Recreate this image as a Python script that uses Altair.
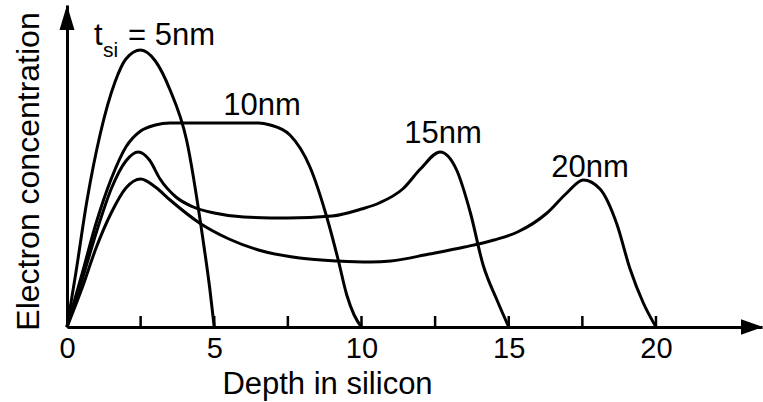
import altair as alt
import pandas as pd

# ---- data (depth in nm, concentration in arbitrary units) ----
d5 = [0, 0.3, 0.67, 1.12, 1.63, 2.0, 2.5, 3.0, 3.5, 4.06, 4.62, 4.85, 5.0]
c5 = [0, 54, 125, 192, 245, 268, 277, 266, 237, 187, 87, 38, 0]

d10 = [0, 0.5, 1.0, 1.5, 2.0, 2.5, 3.0, 3.5, 6.5, 6.9, 7.57, 8.25, 8.82, 9.21, 9.5, 9.75, 10.0]
c10 = [0, 52, 105, 148, 180, 196, 202, 204, 204, 202, 192, 160, 110, 67, 32, 12, 0]

d15 = [0, 0.5, 1.0, 1.5, 2.0, 2.42, 2.8, 3.16, 3.7, 4.29, 5.0, 6.0, 7.5, 9.0, 10.0, 10.6,
       11.4, 12.0, 12.67, 13.23, 13.7, 14.13, 14.6, 15.0]
c15 = [0, 46, 95, 138, 166, 175, 167, 148, 130, 120, 114, 110, 109, 111, 118, 124,
       138, 158, 175, 157, 114, 62, 27, 0]

d20 = [0, 0.5, 1.0, 1.5, 2.0, 2.5, 3.0, 3.5, 4.5, 5.5, 6.5, 7.9, 9.2, 10.3, 11.0, 12.3,
       13.5, 14.5, 15.3, 16.3, 16.97, 17.53, 18.1, 18.67, 19.12, 19.57, 20.0]
c20 = [0, 38, 80, 114, 139, 148, 140, 127, 104, 88, 77, 69, 66, 65, 66, 73,
       80, 87, 95, 114, 134, 147, 138, 103, 58, 24, 0]

tick_values = [0, 5, 10, 15, 20]
minor_ticks = [2.5, 5, 7.5, 10, 12.5, 15, 17.5, 20]

rows = []
for name, xs, ys in [("5nm", d5, c5), ("10nm", d10, c10), ("15nm", d15, c15), ("20nm", d20, c20)]:
    for x, y in zip(xs, ys):
        rows.append({"series": name, "depth": x, "conc": y})
df = pd.DataFrame(rows)
ticks_df = pd.DataFrame({"depth": minor_ticks})

FONT = "Liberation Sans"
W, H = 695, 322
xscale = alt.Scale(domain=[0, 23.6], nice=False, zero=False)
yscale = alt.Scale(domain=[0, 322], nice=False)

xaxis = alt.Axis(values=tick_values, title="Depth in silicon", ticks=False, tickSize=0,
                 grid=False, domainColor="black", domainWidth=3,
                 labelFont=FONT, labelFontSize=29, labelColor="black", labelPadding=7,
                 labelFlush=False,
                 titleFont=FONT, titleFontSize=31, titleFontWeight="normal",
                 titleColor="black", titlePadding=6, titleX=260, titleAlign="center")
yaxis = alt.Axis(title="Electron concentration", labels=False, ticks=False, tickSize=0,
                 grid=False, domainColor="black", domainWidth=3,
                 titleFont=FONT, titleFontSize=32, titleFontWeight="normal",
                 titleColor="black", titlePadding=22, titleY=166, titleAlign="center")

lines = alt.Chart(df).mark_line(color="black", strokeWidth=3, interpolate="monotone").encode(
    x=alt.X("depth:Q", scale=xscale, axis=xaxis, title="Depth in silicon"),
    y=alt.Y("conc:Q", scale=yscale, axis=yaxis, title="Electron concentration"),
    detail="series:N",
)

tick_marks = alt.Chart(ticks_df).mark_rule(color="black", strokeWidth=2.5).encode(
    x=alt.X("depth:Q", scale=xscale, axis=xaxis, title="Depth in silicon"),
    y=alt.value(H - 11),
    y2=alt.value(H),
)

y_arrow = alt.Chart(ticks_df.head(1)).mark_point(
    shape="M -0.6 1 L 0.6 1 L 0 -1 Z", filled=True, size=625, color="black", opacity=1, strokeWidth=0
).encode(x=alt.value(0), y=alt.value(12.5))

x_arrow = alt.Chart(ticks_df.head(1)).mark_point(
    shape="M -1 -0.7 L 1 0 L -1 0.7 Z", filled=True, size=484, color="black", opacity=1, strokeWidth=0
).encode(x=alt.value(W - 10), y=alt.value(H))


def label(text, x, y, size=31, align="left"):
    return alt.Chart(ticks_df.head(1)).mark_text(
        text=text, font=FONT, fontSize=size, color="black", align=align, baseline="alphabetic"
    ).encode(x=alt.value(x), y=alt.value(y))


labels = [
    label("t", 27, 40),
    label("si", 36, 52, size=21),
    label("= 5nm", 61, 40),
    label("10nm", 195, 110, align="center"),
    label("15nm", 376, 138, align="center"),
    label("20nm", 523, 172, align="center"),
]

chart = alt.layer(lines, tick_marks, y_arrow, x_arrow, *labels).properties(
    width=W, height=H,
    autosize=alt.AutoSizeParams(type="none"),
    padding={"left": 67, "top": 5, "right": 1, "bottom": 75},
    background="white",
).configure_view(stroke=None)

chart.save("out.html", embed_options={"renderer": "svg", "actions": False})
